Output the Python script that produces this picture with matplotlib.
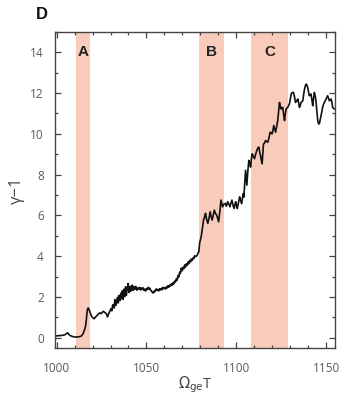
import matplotlib
matplotlib.use("Agg")
import matplotlib.pyplot as plt
from matplotlib.ticker import MultipleLocator

# Growth of the pulse energy versus normalised time
omega_t = [
    999.1, 1001.0, 1002.8, 1004.5, 1006.1, 1007.4, 1008.8, 1010.2, 1011.5, 1012.9, 1014.0, 1014.8,
    1015.5, 1016.1, 1016.5, 1016.8, 1017.2, 1017.6, 1018.1, 1018.7, 1019.4, 1020.1, 1020.9,
    1021.5, 1022.2, 1023.1, 1024.0, 1024.9, 1025.9, 1026.8, 1027.7, 1028.3, 1029.0, 1029.6,
    1030.2, 1030.7, 1031.2, 1031.5, 1032.0, 1032.4, 1032.9, 1033.3, 1033.8, 1034.3, 1034.7,
    1035.2, 1035.7, 1036.1, 1036.6, 1037.0, 1037.5, 1037.9, 1038.4, 1038.8, 1039.3, 1039.8,
    1040.3, 1040.8, 1041.2, 1041.7, 1042.2, 1042.6, 1043.1, 1043.5, 1044.1, 1044.7, 1045.4,
    1045.9, 1046.3, 1046.8, 1047.2, 1047.7, 1048.1, 1048.6, 1049.1, 1049.5, 1050.0, 1050.5,
    1051.0, 1051.4, 1051.9, 1052.3, 1052.8, 1053.3, 1053.7, 1054.2, 1054.6, 1055.1, 1055.6,
    1056.0, 1056.5, 1056.9, 1057.4, 1057.9, 1058.3, 1058.8, 1059.2, 1059.7, 1060.2, 1060.6,
    1061.1, 1061.5, 1062.0, 1062.5, 1062.9, 1063.4, 1063.9, 1064.3, 1064.8, 1065.2, 1065.7,
    1066.2, 1066.7, 1067.1, 1067.6, 1068.0, 1068.5, 1068.9, 1069.4, 1069.9, 1070.3, 1070.8,
    1071.3, 1071.7, 1072.2, 1072.7, 1073.2, 1073.6, 1074.1, 1074.6, 1075.0, 1075.5, 1076.0,
    1076.4, 1076.8, 1077.6, 1078.3, 1079.2, 1079.6, 1080.5, 1081.2, 1081.8, 1082.4, 1082.9,
    1083.5, 1084.2, 1084.8, 1085.5, 1086.0, 1086.6, 1087.2, 1087.8, 1088.4, 1089.1, 1089.7,
    1090.2, 1090.9, 1091.5, 1092.4, 1093.1, 1093.9, 1094.5, 1095.2, 1095.9, 1096.5, 1097.0,
    1097.6, 1098.2, 1098.8, 1099.2, 1099.7, 1100.2, 1100.6, 1101.2, 1101.9, 1102.4, 1103.0,
    1103.5, 1103.9, 1104.3, 1104.6, 1105.2, 1105.6, 1105.9, 1106.4, 1107.0, 1107.5, 1108.0,
    1108.5, 1108.9, 1109.5, 1110.2, 1110.8, 1111.5, 1112.0, 1112.6, 1113.1, 1113.5, 1114.0,
    1114.4, 1114.8, 1115.2, 1115.8, 1116.3, 1117.0, 1117.6, 1118.2, 1118.9, 1119.5, 1120.0,
    1120.5, 1120.9, 1121.4, 1121.9, 1122.5, 1123.1, 1123.6, 1124.1, 1124.5, 1125.0, 1125.5,
    1125.9, 1126.4, 1126.9, 1127.3, 1127.8, 1128.2, 1128.7, 1129.2, 1129.6, 1130.1, 1130.6,
    1131.2, 1131.9, 1132.5, 1133.0, 1133.7, 1134.3, 1134.8, 1135.2, 1135.7, 1136.1, 1136.6,
    1137.1, 1137.5, 1138.0, 1138.5, 1138.9, 1139.4, 1139.8, 1140.3, 1140.7, 1141.2, 1141.6,
    1142.1, 1142.6, 1143.0, 1143.5, 1144.0, 1144.4, 1144.9, 1145.4, 1145.8, 1146.3, 1146.8,
    1147.2, 1147.7, 1148.1, 1148.6, 1149.1, 1149.5, 1150.0, 1150.5, 1150.9, 1151.4, 1151.9,
    1152.3, 1152.8, 1153.3, 1153.7, 1154.2, 1154.6,
]
gamma_minus_one = [
    0.08, 0.10, 0.11, 0.14, 0.24, 0.11, 0.06, 0.03, 0.04, 0.05, 0.10, 0.21,
    0.38, 0.57, 0.85, 1.14, 1.41, 1.46, 1.38, 1.22, 1.06, 0.98, 0.93,
    1.00, 1.06, 1.14, 1.22, 1.18, 1.30, 1.24, 1.17, 1.02, 1.18, 1.30,
    1.42, 1.32, 1.60, 1.62, 1.45, 1.87, 1.58, 1.72, 1.98, 1.70, 2.08,
    1.82, 2.18, 1.92, 2.30, 1.88, 2.38, 2.02, 2.50, 2.08, 2.40, 2.66,
    2.22, 2.52, 2.28, 2.48, 2.58, 2.32, 2.50, 2.37, 2.52, 2.33, 2.45,
    2.38, 2.46, 2.34, 2.44, 2.37, 2.45, 2.33, 2.38, 2.29, 2.41, 2.36,
    2.47, 2.39, 2.43, 2.33, 2.30, 2.22, 2.19, 2.28, 2.25, 2.36, 2.39,
    2.31, 2.37, 2.30, 2.40, 2.34, 2.42, 2.36, 2.47, 2.41, 2.45, 2.39,
    2.49, 2.44, 2.55, 2.48, 2.58, 2.53, 2.64, 2.57, 2.70, 2.64, 2.78,
    2.73, 2.90, 2.82, 3.05, 2.98, 3.22, 3.15, 3.41, 3.28, 3.45, 3.38,
    3.57, 3.46, 3.62, 3.55, 3.72, 3.63, 3.79, 3.72, 3.86, 3.80, 3.92,
    3.88, 4.02, 3.98, 4.06, 4.23, 4.63, 4.96, 5.40, 5.77, 5.93, 6.10,
    5.80, 5.61, 5.85, 6.18, 5.95, 5.77, 6.00, 6.26, 6.10, 6.02, 5.85,
    5.69, 6.20, 6.75, 6.42, 6.55, 6.58, 6.45, 6.67, 6.55, 6.42, 6.60,
    6.75, 6.50, 6.34, 6.50, 6.67, 6.45, 6.34, 6.60, 6.91, 6.75, 6.58,
    6.85, 7.07, 6.90, 7.40, 8.21, 7.80, 7.48, 8.10, 8.70, 8.55, 8.37,
    8.80, 9.02, 8.90, 8.78, 9.00, 9.19, 9.30, 9.35, 9.10, 8.94, 8.70,
    8.53, 9.00, 9.51, 9.55, 9.67, 9.63, 9.59, 9.80, 10.08, 10.05, 10.00,
    10.20, 10.41, 10.25, 10.08, 10.35, 10.65, 11.10, 11.54, 11.35, 11.22, 11.28,
    11.30, 10.95, 10.65, 10.95, 11.22, 11.26, 11.30, 11.40, 11.46, 11.70, 11.95,
    12.03, 12.03, 11.80, 11.54, 11.62, 11.71, 11.50, 11.30, 11.40, 11.54, 11.58,
    11.62, 11.90, 12.19, 12.35, 12.44, 12.38, 12.27, 12.05, 11.87, 11.92, 11.95,
    11.70, 11.38, 11.70, 12.03, 11.85, 11.62, 11.10, 10.65, 10.50, 10.49, 10.70,
    10.89, 11.10, 11.30, 11.45, 11.54, 11.62, 11.71, 11.80, 11.87, 11.75, 11.62,
    11.66, 11.71, 11.55, 11.30, 11.25, 11.22,
]

# Highlighted intervals and their tags
regions = [(1010.7, 1018.5), (1079.0, 1093.0), (1108.0, 1129.0)]
region_tags = ["A", "B", "C"]

x_ticks = [1000, 1050, 1100, 1150]
y_ticks = [0, 2, 4, 6, 8, 10, 12, 14]

plt.rcParams["font.family"] = ["Open Sans", "DejaVu Sans"]

fig = plt.figure(figsize=(3.45, 3.94), dpi=100)
ax = fig.add_axes([0.159, 0.117, 0.812, 0.802])

span_color = "#f9cbbb"
for (lo, hi), tag in zip(regions, region_tags):
    ax.axvspan(lo, hi, color=span_color, lw=0, zorder=0)
    ax.text((lo + hi) / 2, 14.0, tag, ha="center", va="center",
            fontsize=11, fontweight="bold", family="Liberation Sans",
            color="#222222", zorder=3)

ax.plot(omega_t, gamma_minus_one, color="#111111", lw=1.2, zorder=2)

ax.set_xlim(999, 1155)
ax.set_ylim(-0.5, 15)
ax.set_xticks(x_ticks)
ax.set_yticks(y_ticks)
ax.xaxis.set_minor_locator(MultipleLocator(10))
ax.yaxis.set_minor_locator(MultipleLocator(1))

ax.tick_params(which="both", direction="in", top=True, right=True,
               colors="#444444", labelcolor="#5a5a5a", labelsize=8.5, width=0.9)
ax.tick_params(which="major", length=4)
ax.tick_params(which="minor", length=2.5)
ax.tick_params(axis="x", which="major", pad=10)
ax.tick_params(axis="y", which="major", pad=8)
for s in ax.spines.values():
    s.set_color("#444444")
    s.set_linewidth(1.0)

ax.set_ylabel("γ−1", fontsize=12, color="#444444", labelpad=4)
ax.set_xlabel(r"$\Omega_{\rm ge}$T", fontsize=10.5, color="#444444", labelpad=0)

fig.text(0.105, 0.962, "D", fontsize=12, fontweight="bold",
         family="Liberation Sans", color="#111111", ha="left", va="center")

fig.savefig("out.png", dpi=100)
